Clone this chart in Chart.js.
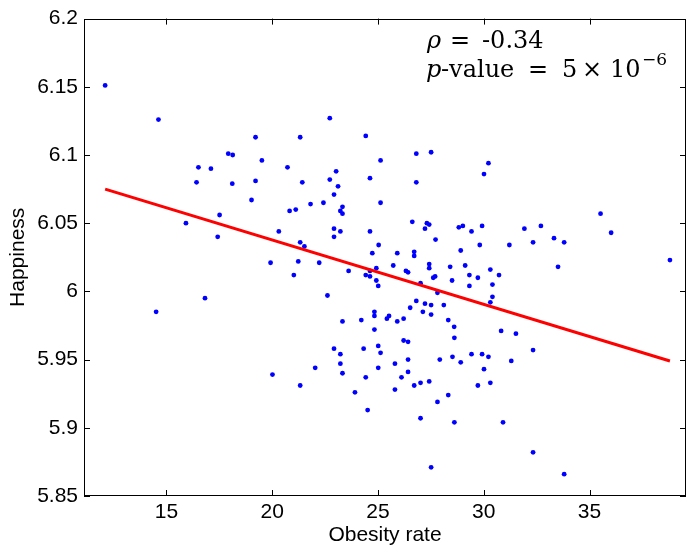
<!DOCTYPE html>
<html>
<head>
<meta charset="utf-8">
<script src="https://cdn.jsdelivr.net/npm/chart.js@4.4.0/dist/chart.umd.min.js"></script>
<style>
    body { margin: 0; background: #fff; }
    #wrap { width: 690px; height: 548px; }
</style>
</head>
<body>
<div id="wrap"><canvas id="myScatter" width="690" height="548"></canvas></div>
<script>

// obesity rate (x) and happiness (y), one entry per city
const obesity = [
    12.10, 14.62, 17.92, 16.51, 17.10, 16.42, 15.92, 17.51, 17.42,
    22.72, 24.42, 19.21, 21.32, 26.81, 27.51, 18.13, 19.51, 25.12, 20.72,
    23.02, 24.62, 22.72, 18.11, 19.21, 21.42, 26.81, 23.11, 22.92, 19.02,
    22.42, 25.12, 21.81, 21.11, 20.82, 23.32, 23.22, 23.32, 26.62, 27.31,
    27.42, 27.22, 28.82, 22.92, 22.92, 23.22, 20.31, 24.62, 27.72, 21.32,
    21.52, 25.03, 28.91, 24.73, 25.91, 26.71, 26.71, 19.92, 21.23, 22.22,
    25.72, 27.42, 27.42, 28.41, 23.61, 24.62, 24.92, 26.32, 26.42,
    30.22, 30.01, 35.52, 36.02, 29.01, 29.92, 29.42, 31.92, 32.70, 29.81,
    31.21, 32.33, 33.32, 33.80, 29.12, 30.31, 33.51, 38.80,
    14.51, 16.82,
    21.02, 24.42, 24.62, 24.92, 25.01, 27.61, 27.70, 27.01, 28.50, 27.81,
    22.61, 26.81, 26.52, 27.22, 27.51, 28.11, 24.83, 24.83, 25.42, 25.52,
    27.12, 27.51, 25.91, 26.21, 28.32, 23.32, 24.21, 28.60, 24.83, 28.61,
    26.21, 26.42, 22.92, 24.32, 25.01, 23.22, 25.12, 28.52, 26.42, 27.92,
    25.80, 23.22, 22.03, 25.01, 20.01, 23.32, 26.42, 26.11, 24.42, 21.32,
    27.01, 26.71, 27.42, 25.80, 23.91, 28.32, 27.81, 24.51, 27.01, 28.61,
    27.51,
    29.32, 29.72, 30.72, 29.32, 30.41, 30.41, 30.31, 30.82, 31.52, 32.33,
    28.91, 29.42, 29.92, 30.22, 31.30, 30.01, 29.72, 30.31, 30.91, 32.33,
    33.80
];
const happiness = [
    6.151, 6.126, 6.101, 6.091, 6.090, 6.080, 6.050, 6.056, 6.040,
    6.127, 6.114, 6.113, 6.113, 6.101, 6.102, 6.100, 6.096, 6.096, 6.091,
    6.088, 6.083, 6.082, 6.079, 6.081, 6.080, 6.080, 6.077, 6.071, 6.067,
    6.065, 6.065, 6.064, 6.060, 6.059, 6.062, 6.059, 6.057, 6.051, 6.050,
    6.049, 6.046, 6.047, 6.046, 6.040, 6.044, 6.044, 6.044, 6.038, 6.036,
    6.033, 6.034, 6.030, 6.028, 6.028, 6.029, 6.026, 6.021, 6.022, 6.021,
    6.019, 6.020, 6.017, 6.018, 6.015, 6.015, 6.017, 6.015, 6.014,
    6.094, 6.086, 6.057, 6.043, 6.048, 6.048, 6.044, 6.046, 6.048, 6.034,
    6.034, 6.036, 6.039, 6.036, 6.019, 6.016, 6.018, 6.023,
    5.985, 5.995,
    6.012, 6.012, 6.011, 6.008, 6.004, 6.010, 6.011, 6.006, 6.008, 5.999,
    5.997, 5.993, 5.988, 5.991, 5.990, 5.990, 5.985, 5.982, 5.980, 5.982,
    5.985, 5.983, 5.978, 5.980, 5.979, 5.978, 5.979, 5.974, 5.972, 5.966,
    5.964, 5.963, 5.958, 5.958, 5.960, 5.954, 5.955, 5.952, 5.950, 5.950,
    5.947, 5.947, 5.944, 5.944, 5.939, 5.940, 5.941, 5.937, 5.937, 5.931,
    5.933, 5.931, 5.934, 5.928, 5.926, 5.924, 5.919, 5.913, 5.907, 5.904,
    5.871,
    6.012, 6.010, 6.012, 6.004, 6.005, 5.996, 5.992, 5.971, 5.969, 5.957,
    5.948, 5.954, 5.954, 5.952, 5.949, 5.943, 5.931, 5.933, 5.904, 5.882,
    5.866
];

// least squares line, end points
const fitX = [12.10, 38.80];
const fitY = [6.075, 5.949];

const xTicks = [15, 20, 25, 30, 35];
const xTickLabels = ['15', '20', '25', '30', '35'];
const yTicks = [5.85, 5.9, 5.95, 6, 6.05, 6.1, 6.15, 6.2];
const yTickLabels = ['5.85', '5.9', '5.95', '6', '6.05', '6.1', '6.15', '6.2'];

const sans = 'Liberation Sans, Arial, sans-serif';
const serif = 'DejaVu Serif, serif';

// matlab style box with inward ticks, plus the rho / p-value text
const boxPlugin = {
    id: 'box',
    afterDraw(chart) {
        const ctx = chart.ctx;
        const a = chart.chartArea;
        const x = chart.scales.x;
        const y = chart.scales.y;

        ctx.save();
        ctx.strokeStyle = '#000';
        ctx.lineWidth = 1;
        ctx.strokeRect(Math.round(a.left) + 0.5, Math.round(a.top) + 0.5,
            Math.round(a.right - a.left) - 1, Math.round(a.bottom - a.top) - 1);

        ctx.beginPath();
        xTicks.forEach((v) => {
            const px = Math.round(x.getPixelForValue(v)) + 0.5;
            ctx.moveTo(px, a.bottom); ctx.lineTo(px, a.bottom - 6);
            ctx.moveTo(px, a.top); ctx.lineTo(px, a.top + 6);
        });
        yTicks.forEach((v) => {
            const py = Math.round(y.getPixelForValue(v)) + 0.5;
            ctx.moveTo(a.left, py); ctx.lineTo(a.left + 6, py);
            ctx.moveTo(a.right, py); ctx.lineTo(a.right - 6, py);
        });
        ctx.stroke();

        ctx.fillStyle = '#000';
        ctx.textBaseline = 'alphabetic';
        ctx.textAlign = 'left';
        // line 1
        ctx.font = 'italic 24px ' + serif;
        ctx.fillText('ρ', 427, 48);
        ctx.font = '24px ' + serif;
        ctx.fillText('=', 450, 48);
        ctx.fillText('-0.34', 482, 48);
        // line 2
        ctx.font = 'italic 24px ' + serif;
        ctx.fillText('p', 426, 77);
        ctx.font = '24px ' + serif;
        ctx.fillText('-value', 441, 77);
        ctx.fillText('=', 528, 77);
        ctx.fillText('5', 562, 77);
        ctx.fillText('×', 582, 77);
        ctx.fillText('10', 610, 77);
        ctx.font = '17px ' + serif;
        ctx.fillText('−6', 642, 65);
        ctx.restore();
    }
};

function createScatter() {
    const ctx = document.getElementById('myScatter').getContext('2d');
    const points = obesity.map((v, i) => ({ x: v, y: happiness[i] }));
    const fitLine = fitX.map((v, i) => ({ x: v, y: fitY[i] }));

    new Chart(ctx, {
        type: 'scatter',
        data: {
            datasets: [
                {
                    type: 'line',
                    data: fitLine,
                    borderColor: '#ff0000',
                    borderWidth: 3,
                    pointRadius: 0,
                    fill: false,
                },
                {
                    data: points,
                    backgroundColor: '#0000ff',
                    borderWidth: 0,
                    pointRadius: 2.4,
                },
            ],
        },
        options: {
            responsive: false,
            animation: false,
            layout: { padding: { top: 16, right: 3, left: 0, bottom: 0 } },
            plugins: {
                legend: { display: false },
                tooltip: { enabled: false },
            },
            scales: {
                x: {
                    type: 'linear',
                    min: 11.1,
                    max: 39.56,
                    afterBuildTicks: (s) => { s.ticks = xTicks.map((v) => ({ value: v })); },
                    afterFit: (s) => { s.height = 52; },
                    grid: { display: false, drawTicks: false },
                    border: { display: false },
                    ticks: {
                        color: '#000',
                        padding: 4,
                        font: { family: sans, size: 21 },
                        callback: (v, i) => xTickLabels[i],
                    },
                    title: {
                        display: true,
                        text: 'Obesity rate',
                        color: '#000',
                        padding: 0,
                        font: { family: sans, size: 21 },
                    },
                },
                y: {
                    type: 'linear',
                    min: 5.85,
                    max: 6.2,
                    afterBuildTicks: (s) => { s.ticks = yTicks.map((v) => ({ value: v })); },
                    afterFit: (s) => { s.width = 84; },
                    grid: { display: false, drawTicks: false },
                    border: { display: false },
                    ticks: {
                        color: '#000',
                        padding: 6,
                        font: { family: sans, size: 21 },
                        callback: (v, i) => yTickLabels[i],
                    },
                    title: {
                        display: true,
                        text: 'Happiness',
                        color: '#000',
                        padding: 6,
                        font: { family: sans, size: 21 },
                    },
                },
            },
        },
        plugins: [boxPlugin],
    });
}

createScatter();
</script>
</body>
</html>
